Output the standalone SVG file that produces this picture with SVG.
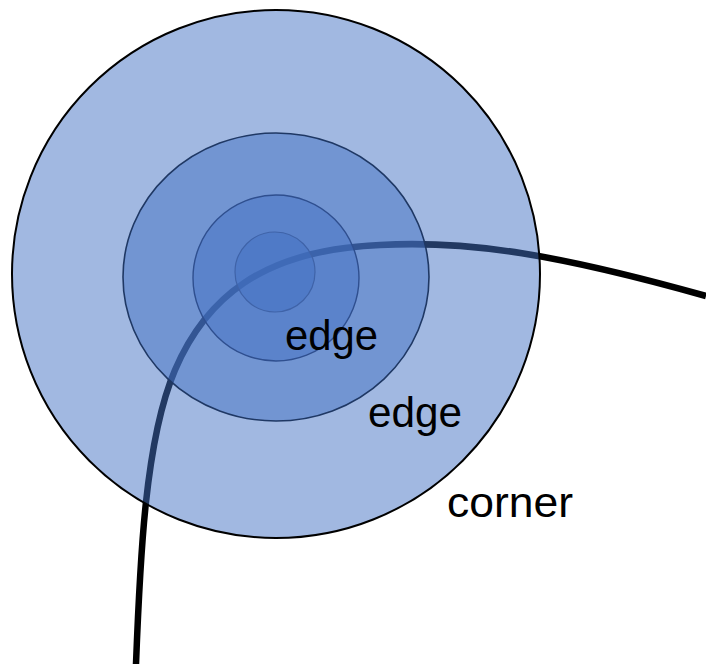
<svg xmlns="http://www.w3.org/2000/svg" width="706" height="664" viewBox="0 0 706 664">
<style>
.ring{fill:#4472C4;fill-opacity:0.5}
.lbl{font-family:"Liberation Sans",Arial,sans-serif;font-size:42px;fill:#000}
</style>
<rect width="706" height="664" fill="#fff"/>
<g id="connectors">
<path d="M136,664 C140,560 145,440 175,370 C205,300 260,250 380,245 C470,240 560,255 706,296" fill="none" stroke="#000" stroke-width="6.5"/>
</g>
<g id="outer"><circle class="ring" cx="276" cy="274" r="264" stroke="#000" stroke-width="2"/></g>
<g id="middle"><ellipse class="ring" cx="276" cy="277" rx="153" ry="144" stroke="#1F3864" stroke-width="1.6"/></g>
<g id="inner"><circle class="ring" cx="276" cy="278" r="83" stroke="#2F4F8F" stroke-width="1.4"/></g>
<g id="core"><circle class="ring" cx="275" cy="272" r="40" stroke="#3F63A8" stroke-width="1.2"/></g>
<g id="labels">
<text class="lbl" x="285" y="350" textLength="93" lengthAdjust="spacingAndGlyphs">edge</text>
<text class="lbl" x="368" y="427" textLength="94" lengthAdjust="spacingAndGlyphs">edge</text>
<text class="lbl" x="447" y="517" textLength="126" lengthAdjust="spacingAndGlyphs">corner</text>
</g>
</svg>
